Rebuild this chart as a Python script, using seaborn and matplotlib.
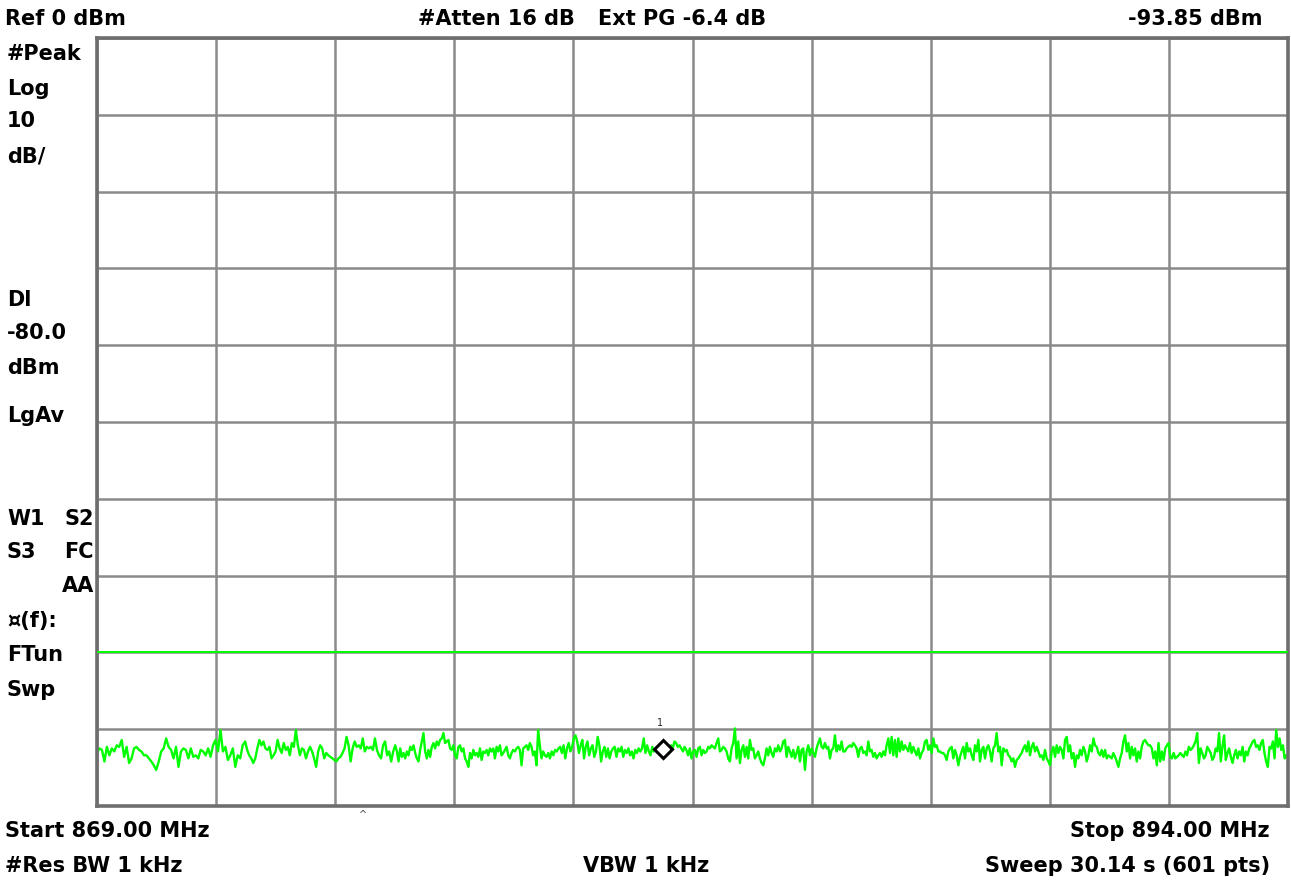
import numpy as np
import pandas as pd
import matplotlib
matplotlib.use("Agg")
import matplotlib.pyplot as plt
import seaborn as sns

# analyzer settings
start_mhz = 869.0
stop_mhz = 894.0
ref_dbm = 0.0
db_per_div = 10
display_line_dbm = -80.0
marker_mhz = 880.88

# trace, in 8 chunks (edges in MHz)
seg_edges_mhz = [869.0, 872.11, 875.26, 878.40, 881.55, 884.70, 887.85, 891.00, 894.0]

seg1 = [-93.1, -92.5, -92.7, -94.2, -92.3, -93.4, -92.5, -92.9, -92.1, -92.3, -91.4, -93.6,
        -92.3, -94.4, -93.8, -92.5, -92.3, -92.7, -92.9, -93.4, -93.4, -93.8, -94.2, -94.7,
        -95.3, -94.2, -92.9, -92.5, -91.2, -92.3, -92.7, -93.8, -92.3, -94.9, -92.9, -92.5,
        -92.7, -93.8, -92.5, -93.6, -93.4, -93.8, -92.7, -92.9, -93.4, -92.5, -93.6, -92.1,
        -91.4, -92.9, -90.1, -92.9, -92.3, -94.0, -93.4, -92.5, -94.9, -93.4, -93.8, -92.1]
seg2 = [-91.6, -92.7, -93.4, -93.8, -94.4, -93.8, -92.5, -91.4, -92.1, -91.6, -92.5, -92.7,
        -92.3, -93.8, -93.4, -92.9, -91.4, -92.5, -93.1, -91.8, -92.7, -92.3, -93.4, -91.8,
        -92.3, -90.1, -92.1, -93.4, -92.5, -92.7, -93.8, -92.9, -92.3, -92.9, -93.8, -94.9,
        -92.9, -92.1, -92.5, -93.8, -93.1, -93.4, -93.6, -93.8, -94.0, -94.2, -93.8, -93.6,
        -93.1, -92.5, -91.0, -92.1, -94.2, -92.5, -91.6, -92.3, -92.1, -92.5, -91.2, -92.9,
        -92.3, -92.5, -92.3, -92.7, -91.2, -92.7, -93.4, -93.8, -92.1, -91.6, -93.4, -92.9,
        -94.2, -92.9]
seg3 = [-92.1, -92.9, -94.2, -92.5, -93.6, -93.1, -93.8, -92.9, -93.4, -92.3, -92.7, -92.1,
        -93.1, -93.8, -94.2, -92.7, -91.6, -90.5, -92.9, -93.8, -92.7, -93.6, -92.3, -91.8,
        -92.5, -91.6, -92.1, -91.4, -91.2, -90.5, -91.8, -91.6, -91.4, -92.5, -92.7, -92.1,
        -93.4, -93.8, -92.3, -92.1, -92.9, -92.5, -93.8, -94.2, -94.9, -93.1, -93.8, -92.7,
        -93.4, -93.1, -93.6, -92.5, -94.0, -92.9, -93.1, -92.7, -93.4, -92.5, -92.9, -92.5,
        -93.8, -92.3, -92.9, -92.1, -93.4, -93.1, -92.7, -92.3, -93.4, -93.8, -93.1, -92.7,
        -92.9, -92.5, -92.3, -92.7, -94.7, -92.5, -92.3, -92.1, -92.7, -91.8, -92.3, -93.4,
        -92.9, -94.7, -90.1, -92.1, -93.8, -92.9]
seg4 = [-93.4, -93.6, -93.1, -93.8, -92.9, -93.4, -92.7, -92.9, -92.5, -92.3, -93.1, -92.1,
        -93.8, -92.5, -91.8, -92.9, -92.3, -91.2, -90.8, -91.6, -93.1, -92.1, -91.4, -93.8,
        -92.3, -91.6, -93.4, -92.5, -92.1, -93.6, -92.9, -91.0, -92.1, -94.2, -92.9, -92.3,
        -93.6, -92.5, -93.8, -92.9, -92.5, -92.3, -93.6, -92.5, -92.9, -92.3, -93.6, -92.7,
        -93.1, -92.5, -93.4, -92.9, -93.8, -92.7, -93.1, -92.5, -92.9, -92.5, -91.2, -93.1,
        -92.1, -92.9, -93.4, -92.3, -92.9, -92.5, -92.7, -92.5, -92.3, -92.5, -92.7, -92.5,
        -92.9, -92.3, -92.1, -92.5, -91.6, -91.8, -92.3, -92.1, -92.5, -92.9, -92.3, -92.7,
        -93.4, -92.5, -93.8, -92.9]
seg5 = [-92.7, -93.6, -92.5, -92.3, -93.4, -92.7, -93.1, -92.9, -92.3, -92.5, -92.1, -92.3,
        -92.5, -91.8, -91.2, -92.9, -92.7, -92.3, -92.5, -92.9, -93.8, -94.2, -92.5, -91.8,
        -89.9, -93.8, -91.6, -94.4, -92.7, -92.1, -93.6, -92.3, -93.8, -91.4, -92.7, -92.5,
        -93.8, -93.4, -92.9, -93.8, -94.4, -94.7, -93.8, -92.5, -93.4, -92.3, -93.1, -93.6,
        -92.5, -92.9, -92.1, -92.9, -92.5, -91.6, -91.4, -93.6, -92.3, -92.9, -93.6, -92.7,
        -93.8, -93.1, -92.3, -94.2, -92.7, -92.5, -95.3, -92.9, -92.1, -93.4, -92.5, -93.1,
        -93.6, -92.5, -91.8, -91.2, -92.3, -92.5, -91.8, -92.5, -92.3, -93.8, -92.7, -92.5,
        -90.8, -92.9, -92.1, -92.7, -91.6, -92.9]
seg6 = [-92.9, -92.5, -92.3, -92.1, -92.3, -91.8, -92.1, -92.5, -93.6, -92.5, -92.3, -93.1,
        -92.9, -93.4, -91.6, -92.9, -92.7, -93.6, -93.1, -93.8, -93.4, -93.1, -93.6, -92.9,
        -93.4, -92.1, -91.2, -93.1, -91.0, -93.4, -91.4, -93.6, -91.2, -92.9, -91.6, -92.7,
        -92.1, -92.5, -92.9, -91.8, -93.1, -92.3, -92.9, -93.4, -92.5, -93.8, -93.1, -92.7,
        -91.6, -91.4, -92.7, -92.1, -93.1, -91.2, -92.3, -92.1, -92.9, -92.9, -93.1, -93.1,
        -93.4, -94.0, -92.9, -92.5, -92.3, -93.8, -92.7, -93.4, -94.7, -93.6, -92.9, -92.3,
        -93.8, -91.8, -92.9, -92.5, -93.4, -94.0, -92.1, -92.9, -91.4, -94.2, -92.7, -92.3,
        -93.8, -92.5, -92.1, -92.9, -94.2, -92.5]
seg7 = [-92.1, -90.5, -92.9, -92.3, -94.7, -92.5, -92.9, -92.7, -93.4, -93.6, -94.2, -93.8,
        -94.9, -94.0, -93.8, -93.4, -93.1, -92.5, -92.1, -92.9, -91.6, -93.4, -92.3, -91.8,
        -92.9, -92.3, -92.9, -93.6, -93.4, -94.0, -92.7, -93.8, -94.2, -94.7, -92.9, -92.3,
        -93.6, -92.1, -93.1, -92.3, -92.7, -93.8, -91.4, -91.0, -92.9, -92.1, -93.8, -93.1,
        -94.9, -93.4, -93.8, -92.7, -93.4, -92.3, -92.9, -94.2, -93.4, -92.1, -92.9, -91.2,
        -92.1, -92.3, -93.1, -93.4, -92.7, -93.6, -92.7, -93.8, -93.4, -93.6, -93.8, -93.1,
        -93.6, -94.2, -94.9, -93.8, -93.1, -91.6, -90.8, -92.9, -91.8, -93.8, -92.3, -93.4,
        -92.5, -94.2, -92.9, -93.8, -92.3, -91.6]
seg8 = [-91.4, -91.8, -92.1, -92.1, -92.5, -93.8, -92.9, -94.7, -91.8, -94.2, -92.9, -94.0,
        -92.5, -92.1, -91.8, -93.6, -93.8, -93.1, -93.8, -93.6, -93.4, -93.1, -93.4, -93.6,
        -92.9, -93.4, -92.3, -92.7, -92.5, -92.1, -91.6, -90.5, -94.4, -92.5, -93.1, -93.8,
        -93.4, -92.3, -92.7, -93.1, -94.0, -93.6, -92.5, -92.9, -90.5, -94.2, -92.3, -90.8,
        -94.0, -93.1, -92.5, -93.6, -94.4, -93.4, -92.7, -93.8, -92.9, -93.4, -92.3, -94.2,
        -92.9, -93.4, -92.5, -92.1, -91.6, -91.4, -92.3, -92.1, -92.7, -91.8, -91.4, -93.1,
        -94.2, -94.9, -92.3, -92.5, -91.6, -93.8, -90.1, -92.3, -91.2, -92.7, -92.1, -93.8,
        -93.4, -93.8]

top_left = "Ref 0 dBm"
top_mid = ["#Atten 16 dB", "Ext PG -6.4 dB"]
top_right = "-93.85 dBm"
side_labels = ["#Peak", "Log", "10", "dB/", "Dl", "-80.0", "dBm", "LgAv",
               "W1  S2", "S3  FC", "AA", "\u00a4(f):", "FTun", "Swp"]
bottom_labels = ["Start 869.00 MHz", "Stop 894.00 MHz", "#Res BW 1 kHz",
                 "VBW 1 kHz", "Sweep 30.14 s (601 pts)"]

W, H = 1291, 880
GREEN = "#00ff00"
GRID = "#8a8a8a"


def build_trace():
    segs = [seg1, seg2, seg3, seg4, seg5, seg6, seg7, seg8]
    freqs, levels = [], []
    for i, seg in enumerate(segs):
        last = i == len(segs) - 1
        f = np.linspace(seg_edges_mhz[i], seg_edges_mhz[i + 1], len(seg), endpoint=last)
        freqs.extend(f)
        levels.extend(seg)
    return pd.DataFrame({"freq": freqs, "dbm": levels})


def px(x, y):
    return x / W, 1 - y / H


def main():
    sns.set_theme(style="white")
    plt.rcParams['font.family'] = ['DejaVu Sans']
    df = build_trace()

    fig = plt.figure(figsize=(W / 100, H / 100), dpi=100)
    ax = fig.add_axes([97 / W, 1 - 806 / H, (1288 - 97) / W, (806 - 38) / H])

    sns.lineplot(data=df, x="freq", y="dbm", color=GREEN, lw=1.7, ax=ax)
    ax.axhline(display_line_dbm, color=GREEN, lw=1.4, zorder=3)

    # marker 1
    m_db = np.interp(marker_mhz, df["freq"], df["dbm"])
    ax.plot([marker_mhz], [m_db], marker="D", ms=9, mfc="white", mec="black", mew=2.2, zorder=5)
    ax.annotate("1", (marker_mhz, m_db), xytext=(-2, 15), textcoords="offset points",
                ha="center", va="bottom", fontsize=7, family="DejaVu Sans Mono")

    bottom_db = ref_dbm - 10 * db_per_div
    ax.set_xlim(start_mhz, stop_mhz)
    ax.set_ylim(bottom_db, ref_dbm)
    ax.set_xticks(np.linspace(start_mhz, stop_mhz, 11))
    ax.set_yticks(np.linspace(bottom_db, ref_dbm, 11))
    ax.set_xticklabels([])
    ax.set_yticklabels([])
    ax.tick_params(length=0)
    ax.grid(True, color=GRID, lw=1.8)
    ax.set_axisbelow(True)
    ax.set_xlabel("")
    ax.set_ylabel("")
    for s in ax.spines.values():
        s.set_color("#6e6e6e")
        s.set_linewidth(2.6)

    fs = 15
    kw = dict(fontsize=fs, fontweight="bold", color="black", va="center")
    fig.text(*px(5, 19), top_left, ha="left", **kw)
    fig.text(*px(496, 19), top_mid[0], ha="center", **kw)
    fig.text(*px(682, 19), top_mid[1], ha="center", **kw)
    fig.text(*px(1262, 19), top_right, ha="right", **kw)

    side_y = [54, 89, 121, 156, 300, 333, 368, 416, 519, 552, 586, 621, 655, 690]
    for lab, y in zip(side_labels, side_y):
        if "  " in lab:
            left, right = lab.split("  ")
            fig.text(*px(7, y), left, ha="left", **kw)
            fig.text(*px(94, y), right, ha="right", **kw)
        elif lab == "AA":
            fig.text(*px(94, y), lab, ha="right", **kw)
        else:
            fig.text(*px(7, y), lab, ha="left", **kw)

    fig.text(*px(5, 831), bottom_labels[0], ha="left", **kw)
    fig.text(*px(1270, 831), bottom_labels[1], ha="right", **kw)
    fig.text(*px(5, 866), bottom_labels[2], ha="left", **kw)
    fig.text(*px(646, 866), bottom_labels[3], ha="center", **kw)
    fig.text(*px(1270, 866), bottom_labels[4], ha="right", **kw)
    fig.text(*px(363, 815), "^", ha="center", fontsize=7, color="#444444", va="center")

    fig.savefig("out.png", dpi=100, facecolor="white")


if __name__ == '__main__':
    main()
